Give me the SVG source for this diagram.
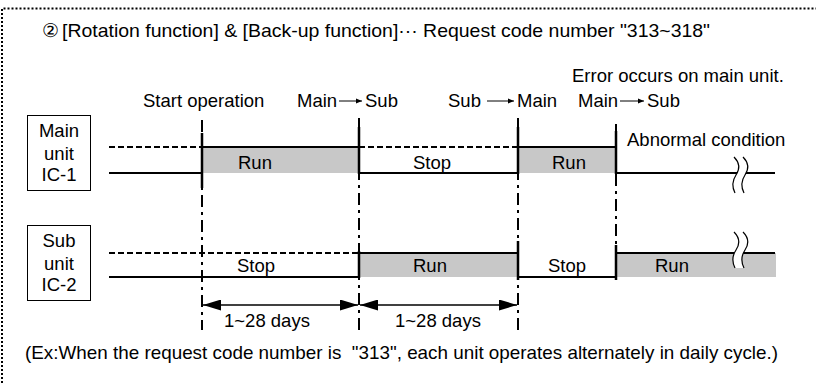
<svg xmlns="http://www.w3.org/2000/svg" width="819" height="383" viewBox="0 0 819 383">
<style>
text{font-family:"Liberation Sans",Arial,sans-serif;font-size:18.5px;fill:#000}
.c{text-anchor:middle}
.lvl{stroke:#000;stroke-width:2;fill:none}
.dash{stroke:#000;stroke-width:2;stroke-dasharray:6 3;fill:none}
.edge{stroke:#000;stroke-width:2.5;fill:none}
.dd{stroke:#000;stroke-width:2;stroke-dasharray:12 5 3 5;fill:none}
.run{fill:#c8c8c8}
.box{fill:#fff;stroke:#000;stroke-width:1}
.brk{stroke:#000;stroke-width:1.2;fill:none}
</style>
<defs>
<marker id="ah" viewBox="0 0 18 11" refX="18" refY="5.5" markerWidth="18" markerHeight="11" markerUnits="userSpaceOnUse" orient="auto-start-reverse">
<path d="M0,0 L18,5.5 L0,11 Z" fill="#000"/>
</marker>
<marker id="sa" viewBox="0 0 6 6" refX="6" refY="3" markerWidth="6" markerHeight="6" markerUnits="userSpaceOnUse" orient="auto">
<path d="M0,0.5 L6,3 L0,5.5 Z" fill="#000"/>
</marker>
<path id="brkfill" d="M0,0 C6,6 6,12 2,18 C-2,24 -2,30 1,36 L10,36 C7,30 7,24 11,18 C15,12 15,6 9,0 Z" fill="#fff"/>
<path id="brkline" d="M0,0 C6,6 6,12 2,18 C-2,24 -2,30 1,36 M9,0 C15,6 15,12 11,18 C7,24 7,30 10,36"/>
</defs>

<path d="M2,383 V8.5 H816" stroke="#000" stroke-width="2" stroke-dasharray="2 2" fill="none"/>

<text x="42" y="37" font-family="DejaVu Sans" font-size="15">②</text>
<text x="62" y="37" textLength="648" lengthAdjust="spacingAndGlyphs">[Rotation function] &amp; [Back-up function]··· Request code number "313~318"</text>

<g id="labels">
<text x="143" y="107">Start operation</text>
<text x="297" y="107">Main</text>
<text x="365" y="107">Sub</text>
<text x="448" y="107">Sub</text>
<text x="517" y="107">Main</text>
<text x="578" y="107">Main</text>
<text x="647" y="107">Sub</text>
<text x="572" y="82">Error occurs on main unit.</text>
<line x1="339" y1="101" x2="362" y2="101" stroke="#000" stroke-width="1" marker-end="url(#sa)"/>
<line x1="487" y1="101" x2="514" y2="101" stroke="#000" stroke-width="1" marker-end="url(#sa)"/>
<line x1="620" y1="101" x2="644" y2="101" stroke="#000" stroke-width="1" marker-end="url(#sa)"/>
</g>

<g id="main-unit">
<rect class="box" x="27.5" y="115.5" width="63" height="75"/>
<text class="c" x="59" y="137">Main</text>
<text class="c" x="59" y="160">unit</text>
<text class="c" x="59" y="181">IC-1</text>
</g>

<g id="sub-unit">
<rect class="box" x="27.5" y="225.5" width="63" height="75"/>
<text class="c" x="59" y="247">Sub</text>
<text class="c" x="59" y="270">unit</text>
<text class="c" x="59" y="291">IC-2</text>
</g>

<g id="main-timeline">
<rect class="run" x="202" y="147" width="157" height="26"/>
<rect class="run" x="518" y="147" width="98" height="26"/>
<path class="dash" d="M109,147 H202 M359,147 H518"/>
<path class="lvl" d="M109,173 H202 M202,147 H359 M359,173 H518 M518,147 H616 M616,173 H775"/>
<text x="238" y="169">Run</text>
<text x="413" y="169">Stop</text>
<text x="552" y="169">Run</text>
<text x="627" y="146">Abnormal condition</text>
<use href="#brkfill" x="734" y="157"/>
<use href="#brkline" x="734" y="157" class="brk"/>
</g>

<g id="sub-timeline">
<rect class="run" x="359" y="253" width="159" height="24"/>
<rect class="run" x="616" y="253" width="160" height="24"/>
<path class="dash" d="M109,253 H359"/>
<path class="lvl" d="M109,277 H359 M359,253 H518 M518,277 H616 M616,253 H775"/>
<text x="237" y="272">Stop</text>
<text x="413" y="272">Run</text>
<text x="548" y="272">Stop</text>
<text x="655" y="272">Run</text>
<use href="#brkfill" x="734" y="232"/>
<use href="#brkline" x="734" y="232" class="brk"/>
</g>

<g id="connectors">
<path class="dd" d="M202,120 V330 M359,118 V330 M518,118 V330 M616,124 V245"/>
<path class="edge" d="M202,133 V188 M359,127 V174 M518,127 V174 M616,131 V174"/>
<path class="edge" d="M359,251 V278 M518,241 V280 M616,245 V280"/>
<line x1="203" y1="305" x2="358" y2="305" stroke="#000" stroke-width="1.5" marker-start="url(#ah)" marker-end="url(#ah)"/>
<line x1="360" y1="305" x2="517" y2="305" stroke="#000" stroke-width="1.5" marker-start="url(#ah)" marker-end="url(#ah)"/>
<text x="224" y="327">1~28 days</text>
<text x="395" y="327">1~28 days</text>
</g>

<text x="25" y="359" xml:space="preserve" textLength="753" lengthAdjust="spacingAndGlyphs">(Ex:When the request code number is  "313", each unit operates alternately in daily cycle.)</text>
</svg>
